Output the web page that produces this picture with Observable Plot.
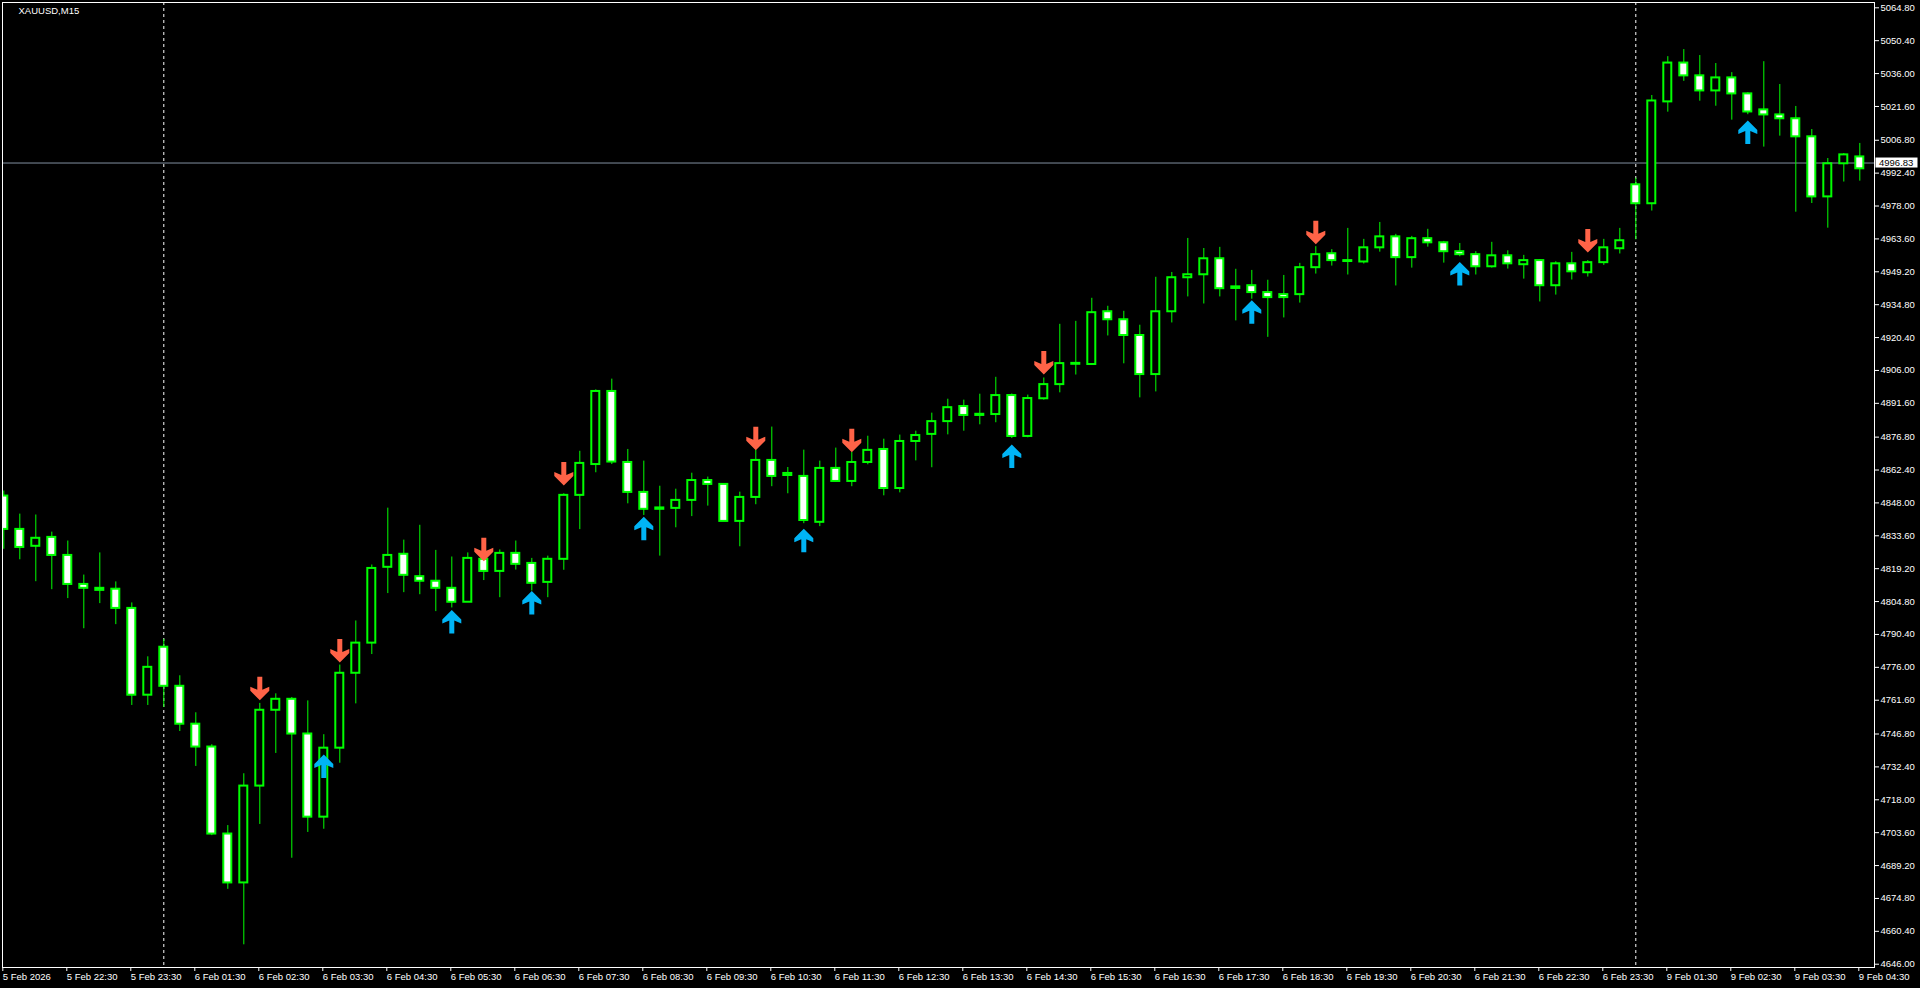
<!DOCTYPE html>
<html><head><meta charset="utf-8">
<script src="https://cdn.jsdelivr.net/npm/d3@7"></script>
<script src="https://cdn.jsdelivr.net/npm/@observablehq/plot@0.6"></script>
<style>html,body{margin:0;padding:0;background:#000;overflow:hidden}</style>
</head><body><div id="chart"></div>
<script>
const chartTitle = "XAUUSD,M15";

const opens = [4851.0,4836.4,4829.0,4832.9,4825.0,4812.3,4810.6,4810.2,4801.8,4763.8,
4784.8,4767.7,4751.1,4741.1,4703.0,4681.6,4724.0,4757.2,4762.0,4746.8,
4710.4,4740.6,4773.4,4786.6,4819.8,4825.5,4815.7,4813.7,4810.6,4804.5,
4823.3,4818.0,4825.9,4821.5,4813.2,4823.3,4851.3,4864.8,4896.8,4865.7,
4852.6,4845.2,4845.6,4849.1,4857.8,4856.1,4839.9,4850.4,4866.6,4860.0,
4859.6,4839.5,4863.1,4857.4,4865.7,4871.4,4854.3,4874.9,4878.0,4883.6,
4890.2,4886.3,4886.7,4895.0,4877.1,4893.6,4899.8,4908.7,4908.6,4931.7,
4928.2,4921.3,4904.2,4931.7,4946.6,4947.9,4954.9,4941.9,4943.1,4940.1,
4939.2,4939.2,4951.0,4957.1,4953.7,4953.5,4959.7,4964.5,4955.4,4963.7,
4961.9,4958.0,4956.7,4951.4,4956.2,4952.3,4954.1,4943.1,4952.7,4948.8,
4953.2,4959.3,4987.3,4979.0,5023.6,5040.6,5035.0,5028.4,5034.1,5027.1,
5020.1,5017.9,5016.2,5008.3,4982.0,4996.5,4999.5];
const highs = [4853.2,4843.1,4842.7,4835.2,4831.3,4816.4,4826.1,4813.4,4804.2,4780.6,
4788.3,4772.3,4756.1,4742.1,4706.7,4729.4,4760.2,4764.4,4762.8,4761.3,
4746.5,4777.0,4796.3,4820.8,4845.7,4831.7,4838.2,4827.2,4824.3,4826.1,
4824.0,4827.4,4831.3,4823.7,4824.7,4852.0,4870.6,4897.5,4902.2,4871.4,
4866.3,4855.3,4854.0,4861.0,4859.3,4856.1,4852.7,4871.1,4881.2,4863.5,
4871.1,4866.3,4872.0,4870.1,4877.2,4875.9,4877.7,4879.4,4887.3,4893.4,
4893.0,4895.6,4903.0,4895.7,4895.2,4902.7,4926.2,4927.5,4937.6,4934.1,
4931.9,4925.8,4946.8,4948.9,4963.8,4959.4,4959.9,4950.3,4949.8,4945.5,
4947.6,4952.9,4960.2,4958.9,4968.2,4963.4,4970.8,4965.6,4964.7,4967.8,
4962.5,4961.6,4958.0,4962.1,4958.4,4956.4,4954.5,4953.6,4957.7,4954.1,
4963.4,4968.2,4990.2,5026.4,5043.4,5046.5,5043.9,5040.4,5036.4,5027.6,
5041.2,5031.2,5021.6,5011.5,4998.8,5001.0,5005.4];
const lows = [4827.7,4823.1,4813.5,4810.0,4806.1,4792.9,4803.9,4794.7,4759.3,4759.3,
4758.4,4747.9,4732.6,4702.3,4678.8,4654.5,4707.2,4738.3,4692.4,4703.7,
4705.1,4734.0,4760.0,4781.6,4808.3,4808.7,4807.8,4800.4,4802.0,4804.5,
4814.0,4806.5,4818.6,4809.4,4806.5,4818.5,4836.3,4861.2,4864.8,4847.6,
4842.5,4824.7,4837.1,4842.0,4846.6,4839.9,4828.8,4847.2,4855.1,4852.0,
4838.9,4837.6,4857.4,4855.1,4864.7,4851.1,4852.4,4866.4,4863.4,4877.8,
4879.4,4882.2,4883.1,4876.2,4876.5,4893.0,4896.2,4904.0,4908.6,4921.1,
4908.9,4894.0,4896.6,4926.8,4938.2,4935.1,4938.2,4927.7,4937.2,4920.5,
4929.0,4935.5,4948.2,4951.7,4947.8,4952.6,4957.8,4943.0,4950.8,4960.0,
4953.0,4955.8,4947.8,4950.8,4950.4,4946.0,4936.0,4939.0,4945.6,4946.9,
4952.0,4957.0,4963.2,4975.8,5019.1,5032.6,5023.9,5021.7,5015.6,5018.0,
5003.8,5008.6,4975.3,4979.1,4968.3,4988.5,4988.9];
const closes = [4836.4,4828.5,4832.5,4825.0,4812.3,4810.6,4809.7,4801.8,4763.8,4776.0,
4767.7,4751.1,4741.1,4703.0,4681.6,4724.0,4757.2,4762.0,4746.8,4710.4,
4740.6,4773.4,4786.6,4819.3,4825.0,4816.3,4813.7,4810.6,4804.5,4823.7,
4818.0,4825.9,4821.1,4812.8,4823.3,4851.3,4865.3,4896.8,4865.9,4852.6,
4845.2,4845.8,4849.1,4857.8,4856.1,4839.9,4850.4,4866.6,4859.6,4860.9,
4840.3,4863.1,4857.4,4865.7,4871.0,4854.3,4874.9,4877.5,4883.6,4889.7,
4886.3,4886.8,4895.0,4877.1,4893.7,4899.8,4909.0,4909.1,4931.3,4928.2,
4921.3,4904.2,4931.7,4946.6,4947.9,4954.9,4941.8,4942.6,4940.1,4937.9,
4937.9,4951.0,4956.7,4954.1,4954.1,4959.7,4964.5,4955.4,4963.7,4961.9,
4958.0,4956.7,4951.4,4956.2,4952.7,4954.1,4943.1,4952.7,4949.2,4953.2,
4959.7,4962.8,4979.0,5024.0,5040.6,5035.0,5028.4,5034.1,5027.1,5019.2,
5017.9,5016.2,5008.3,4982.0,4996.5,5000.4,4994.3];

const tickBars = [0,4,8,12,16,20,24,28,32,36,40,44,48,52,56,60,64,68,72,76,80,84,88,92,96,100,104,108,112,116];
const tickLabels = ["5 Feb 2026","5 Feb 22:30","5 Feb 23:30","6 Feb 01:30","6 Feb 02:30","6 Feb 03:30",
"6 Feb 04:30","6 Feb 05:30","6 Feb 06:30","6 Feb 07:30","6 Feb 08:30","6 Feb 09:30","6 Feb 10:30",
"6 Feb 11:30","6 Feb 12:30","6 Feb 13:30","6 Feb 14:30","6 Feb 15:30","6 Feb 16:30","6 Feb 17:30",
"6 Feb 18:30","6 Feb 19:30","6 Feb 20:30","6 Feb 21:30","6 Feb 22:30","6 Feb 23:30","9 Feb 01:30",
"9 Feb 02:30","9 Feb 03:30","9 Feb 04:30"];
const priceTicks = [5064.80,5050.40,5036.00,5021.60,5006.80,4992.40,4978.00,4963.60,4949.20,4934.80,
4920.40,4906.00,4891.60,4876.80,4862.40,4848.00,4833.60,4819.20,4804.80,4790.40,4776.00,4761.60,
4746.80,4732.40,4718.00,4703.60,4689.20,4674.80,4660.40,4646.00];
const separatorBars = [10, 102];
const bidPrice = 4996.83;
const downArrowBars = [16,21,30,35,47,53,65,82,99];
const downArrowPrices = [4761.6,4778.1,4822.5,4855.6,4871.1,4870.2,4904.2,4961.3,4957.7];
const upArrowBars = [20,28,33,40,50,63,78,91,109];
const upArrowPrices = [4737.8,4801.1,4809.4,4841.9,4836.7,4873.6,4936.7,4953.5,5015.4];

const bars = opens.map((o, i) => ({i, o, h: highs[i], l: lows[i], c: closes[i]}));
const downs = downArrowBars.map((b, k) => ({i: b, p: downArrowPrices[k]}));
const ups = upArrowBars.map((b, k) => ({i: b, p: upArrowPrices[k]}));
const labelOf = new Map(tickBars.map((b, k) => [b, tickLabels[k]]));

const downShape = [[0,0],[9.5,-9.5],[9.5,-13.5],[2.5,-10.5],[2.5,-23.5],[-2.5,-23.5],[-2.5,-10.5],[-9.5,-13.5],[-9.5,-9.5]];
function shapeSymbol(pts, sign) {
  return {draw(ctx) {
    ctx.moveTo(pts[0][0], sign * pts[0][1]);
    for (let k = 1; k < pts.length; k++) ctx.lineTo(pts[k][0], sign * pts[k][1]);
    ctx.closePath();
  }};
}
const arrowDown = shapeSymbol(downShape, 1);
const arrowUp = shapeSymbol(downShape, -1);

const GREEN = "#00ff00";
const FONT = "'Liberation Sans', Arial, sans-serif";
const chart = Plot.plot({
  width: 1920,
  height: 988,
  marginLeft: 2,
  marginRight: 46,
  marginTop: 2,
  marginBottom: 21,
  x: {type: "linear", domain: [-0.08125, 116.91875]},
  y: {type: "linear", domain: [4644.56, 5067.12]},
  style: {background: "#000", color: "#fff", fontFamily: FONT, fontSize: "9.5px"},
  marks: [
    Plot.ruleY([bidPrice], {y: d => d, stroke: "#8290a0", strokeWidth: 1, clip: true}),
    Plot.ruleX(separatorBars, {x: d => d, stroke: "#fff", strokeDasharray: "3,3", clip: true}),
    Plot.ruleX(bars, {x: "i", y1: "l", y2: "h", stroke: GREEN, strokeWidth: 1, clip: true}),
    Plot.rect(bars, {x1: d => d.i - 0.25, x2: d => d.i + 0.25, y1: "o", y2: "c",
      fill: d => d.c < d.o ? "#fff" : "#000", stroke: GREEN, strokeWidth: 2, clip: true}),
    Plot.dot(downs, {x: "i", y: "p", symbol: arrowDown, fill: "#ff6347", stroke: "none", clip: true}),
    Plot.dot(ups, {x: "i", y: "p", symbol: arrowUp, fill: "#00b4f5", stroke: "none", clip: true}),
    Plot.frame({stroke: "#fff"}),
    Plot.axisY(priceTicks, {anchor: "right", tickSize: 4, tickPadding: 2, tickFormat: d => d.toFixed(2), label: null, fill: "#fff", stroke: "#fff"}),
    Plot.axisX(tickBars, {anchor: "bottom", tickSize: 4, tickPadding: 2, tickFormat: b => labelOf.get(b), textAnchor: "start", dx: -1, label: null, fill: "#fff", stroke: "#fff"}),
    Plot.text([chartTitle], {frameAnchor: "top-left", dx: 16, dy: 5, textAnchor: "start", lineAnchor: "top", fill: "#fff", text: d => d})
  ]
});

// current price label on the price axis
const yPix = chart.scale("y").apply(bidPrice);
const xEdge = chart.scale("x").apply(116.91875);
const svg = d3.select(chart);
const g = svg.append("g").attr("text-anchor", "start");
g.append("rect").attr("x", xEdge + 1.5).attr("y", yPix - 5).attr("width", 42).attr("height", 10).attr("fill", "#fff");
g.append("text").attr("x", xEdge + 5).attr("y", yPix).attr("dy", "0.35em").attr("fill", "#000")
  .attr("text-anchor", "start").attr("font-family", FONT).attr("font-size", "9.5px").text(bidPrice.toFixed(2));

document.getElementById("chart").appendChild(chart);
</script>
</body></html>
